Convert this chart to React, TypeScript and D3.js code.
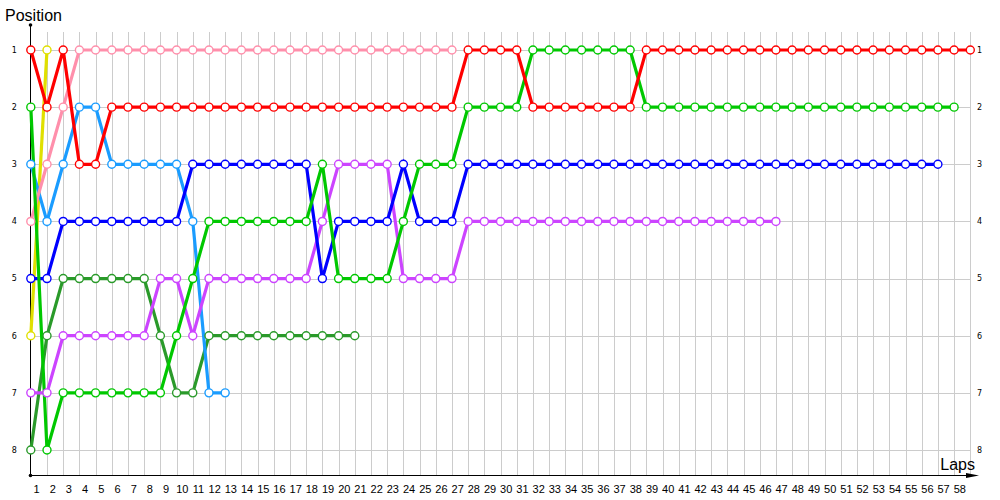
import React, { useEffect, useRef } from 'react';
import * as d3 from 'd3';

// positions per lap, index 0 = grid
const redPos = [1, 2, 1, 3, 3, 2, 2, 2, 2, 2, 2, 2, 2, 2, 2, 2, 2, 2, 2, 2, 2, 2, 2, 2, 2, 2, 2, 1, 1, 1, 1, 2, 2, 2, 2, 2, 2, 2, 1, 1, 1, 1, 1, 1, 1, 1, 1, 1, 1, 1, 1, 1, 1, 1, 1, 1, 1, 1, 1];
const greenPos = [2, 8, 7, 7, 7, 7, 7, 7, 7, 6, 5, 4, 4, 4, 4, 4, 4, 4, 3, 5, 5, 5, 5, 4, 3, 3, 3, 2, 2, 2, 2, 1, 1, 1, 1, 1, 1, 1, 2, 2, 2, 2, 2, 2, 2, 2, 2, 2, 2, 2, 2, 2, 2, 2, 2, 2, 2, 2];
const bluePos = [5, 5, 4, 4, 4, 4, 4, 4, 4, 4, 3, 3, 3, 3, 3, 3, 3, 3, 5, 4, 4, 4, 4, 3, 4, 4, 4, 3, 3, 3, 3, 3, 3, 3, 3, 3, 3, 3, 3, 3, 3, 3, 3, 3, 3, 3, 3, 3, 3, 3, 3, 3, 3, 3, 3, 3, 3];
const violetPos = [7, 7, 6, 6, 6, 6, 6, 6, 5, 5, 6, 5, 5, 5, 5, 5, 5, 5, 4, 3, 3, 3, 3, 5, 5, 5, 5, 4, 4, 4, 4, 4, 4, 4, 4, 4, 4, 4, 4, 4, 4, 4, 4, 4, 4, 4, 4];
const pinkPos = [4, 3, 2, 1, 1, 1, 1, 1, 1, 1, 1, 1, 1, 1, 1, 1, 1, 1, 1, 1, 1, 1, 1, 1, 1, 1, 1];
const lightBluePos = [3, 4, 3, 2, 2, 3, 3, 3, 3, 3, 4, 7, 7];
const darkGreenPos = [8, 6, 5, 5, 5, 5, 5, 5, 6, 7, 7, 6, 6, 6, 6, 6, 6, 6, 6, 6, 6];
const yellowPos = [6, 1];

const positionTicks = [1, 2, 3, 4, 5, 6, 7, 8];
const lapTicks = [1, 2, 3, 4, 5, 6, 7, 8, 9, 10, 11, 12, 13, 14, 15, 16, 17, 18, 19, 20, 21, 22, 23, 24, 25, 26, 27, 28, 29, 30, 31, 32, 33, 34, 35, 36, 37, 38, 39, 40, 41, 42, 43, 44, 45, 46, 47, 48, 49, 50, 51, 52, 53, 54, 55, 56, 57, 58];

const series = [
  { name: 'darkgreen', color: '#2a9a2a', pos: darkGreenPos },
  { name: 'yellow', color: '#e0e000', pos: yellowPos },
  { name: 'lightblue', color: '#1a9cff', pos: lightBluePos },
  { name: 'pink', color: '#ff8fab', pos: pinkPos },
  { name: 'violet', color: '#cc44ff', pos: violetPos },
  { name: 'blue', color: '#0000ff', pos: bluePos },
  { name: 'green', color: '#00c800', pos: greenPos },
  { name: 'red', color: '#ff0000', pos: redPos },
];

const font = '"Liberation Sans", Arial, sans-serif';

export default function App() {
  const ref = useRef<SVGSVGElement>(null);

  useEffect(() => {
    const svg = d3.select(ref.current);
    svg.selectAll('*').remove();

    const x = d3.scaleLinear().domain([0, 58]).range([30.8, 970.3]);
    const y = d3.scaleLinear().domain([1, 8]).range([50, 450]);
    const bottom = 475.5;

    // grid
    svg.append('g')
      .selectAll('line')
      .data(lapTicks)
      .enter()
      .append('line')
      .attr('x1', (d) => Math.round(x(d)) + 0.5)
      .attr('x2', (d) => Math.round(x(d)) + 0.5)
      .attr('y1', 32)
      .attr('y2', bottom)
      .attr('stroke', '#cccccc')
      .attr('stroke-width', 1);

    svg.append('g')
      .selectAll('line')
      .data(positionTicks)
      .enter()
      .append('line')
      .attr('x1', x(0))
      .attr('x2', Math.round(x(58)) + 0.5)
      .attr('y1', (d) => Math.round(y(d)) + 0.5)
      .attr('y2', (d) => Math.round(y(d)) + 0.5)
      .attr('stroke', '#cccccc')
      .attr('stroke-width', 1);

    // axes
    svg.append('line')
      .attr('x1', 30.5).attr('x2', 30.5)
      .attr('y1', 25).attr('y2', bottom)
      .attr('stroke', '#000');
    svg.append('line')
      .attr('x1', 30.5).attr('x2', 972)
      .attr('y1', bottom).attr('y2', bottom)
      .attr('stroke', '#000');
    svg.append('path')
      .attr('d', `M966,${bottom - 2.5} L979,${bottom} L966,${bottom + 2.5} Z`)
      .attr('fill', '#000');
    svg.append('circle').attr('cx', 30.5).attr('cy', 25).attr('r', 1.8).attr('fill', '#000');
    svg.append('circle').attr('cx', 30.5).attr('cy', bottom).attr('r', 1.8).attr('fill', '#000');

    // tick labels
    svg.append('g')
      .selectAll('text')
      .data(lapTicks)
      .enter()
      .append('text')
      .attr('x', (d) => x(d) - 10.5)
      .attr('y', 493)
      .attr('text-anchor', 'middle')
      .attr('font-family', font)
      .attr('font-size', 11)
      .attr('fill', '#000')
      .text((d) => d);

    const posLabels = svg.append('g');
    [14.3, 979.5].forEach((lx) => {
      posLabels.append('g')
        .selectAll('text')
        .data(positionTicks)
        .enter()
        .append('text')
        .attr('x', lx)
        .attr('y', (d) => y(d))
        .attr('dy', '0.35em')
        .attr('text-anchor', 'middle')
        .attr('font-family', '"DejaVu Sans", sans-serif')
        .attr('font-size', 8)
        .attr('fill', '#000')
        .text((d) => d);
    });

    svg.append('text')
      .attr('x', 5).attr('y', 21)
      .attr('font-family', font)
      .attr('font-size', 16)
      .text('Position');
    svg.append('text')
      .attr('x', 975).attr('y', 470)
      .attr('text-anchor', 'end')
      .attr('font-family', font)
      .attr('font-size', 16)
      .text('Laps');

    const line = d3.line<number>()
      .x((d, i) => x(i))
      .y((d) => y(d));

    // lines
    svg.append('g')
      .selectAll('path')
      .data(series)
      .enter()
      .append('path')
      .attr('d', (s) => line(s.pos))
      .attr('fill', 'none')
      .attr('stroke', (s) => s.color)
      .attr('stroke-width', 3.2);

    // markers
    series.forEach((s) => {
      svg.append('g')
        .selectAll('circle')
        .data(s.pos)
        .enter()
        .append('circle')
        .attr('cx', (d, i) => x(i))
        .attr('cy', (d) => y(d))
        .attr('r', 4)
        .attr('fill', '#fff')
        .attr('stroke', s.color)
        .attr('stroke-width', 1.4);
    });
  }, []);

  return (
    <svg
      ref={ref}
      width={1000}
      height={500}
      style={{ position: 'absolute', left: 0, top: 0, background: '#fff' }}
    />
  );
}
